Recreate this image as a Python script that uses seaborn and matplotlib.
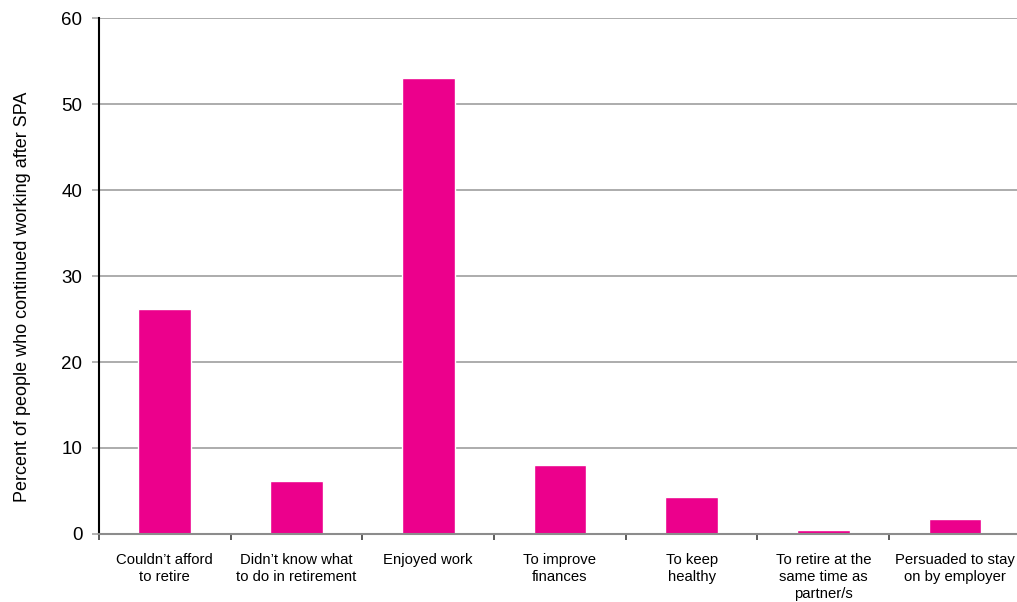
import matplotlib
matplotlib.use("Agg")
import matplotlib.pyplot as plt
import numpy as np
import pandas as pd
import seaborn as sns

categories = [
    "Couldn\u2019t afford\nto retire",
    "Didn\u2019t know what\nto do in retirement",
    "Enjoyed work",
    "To improve\nfinances",
    "To keep\nhealthy",
    "To retire at the\nsame time as\npartner/s",
    "Persuaded to stay\non by employer",
]
percent = [26.2, 6.2, 53.0, 8.0, 4.3, 0.5, 1.7]
y_ticks = [0, 10, 20, 30, 40, 50, 60]

df = pd.DataFrame({"reason": categories, "percent": percent})

sns.set_theme(style="white")
plt.rcParams["font.family"] = ["Liberation Sans", "DejaVu Sans"]
plt.rcParams["text.color"] = "#000000"
plt.rcParams["axes.labelcolor"] = "#000000"

fig = plt.figure(figsize=(10.17, 6.02), dpi=100)
ax = fig.add_axes([0.0973, 0.113, 0.9065, 0.857])

sns.barplot(data=df, x="reason", y="percent", color="#EC008C",
            saturation=1, width=0.4, ax=ax, zorder=3)

ax.set_ylim(0, 60)
ax.set_xlim(-0.5, len(categories) - 0.5)
ax.set_yticks(y_ticks)
ax.set_yticklabels([str(v) for v in y_ticks], fontsize=13.5)
ax.yaxis.grid(True, color="#A6A6A6", linewidth=1.3, zorder=0)
ax.xaxis.grid(False)

# category labels centred, boundary tick marks between categories
ax.set_xticks(range(len(categories)))
ax.set_xticklabels(categories, fontsize=10.7, linespacing=1.25, va="top")
ax.tick_params(axis="x", which="major", length=0, pad=14, labelcolor="#000000")
ax.set_xticks(np.arange(-0.5, len(categories), 1.0), minor=True)
ax.tick_params(axis="x", which="minor", length=4, width=1.2, color="#404040",
               direction="out", bottom=True)
ax.tick_params(axis="y", which="major", length=5, width=1.2, color="#A6A6A6",
               direction="out", left=True, pad=7, labelcolor="#000000")

ax.set_xlabel("")
ax.set_ylabel("Percent of people who continued working after SPA",
              fontsize=13, color="#000000")
ax.yaxis.set_label_coords(-0.0735, 0.459)

for side in ["top", "right"]:
    ax.spines[side].set_visible(False)
ax.spines["left"].set_color("#000000")
ax.spines["left"].set_linewidth(1.5)
ax.spines["left"].set_zorder(4)
ax.spines["bottom"].set_color("#8C8C8C")
ax.spines["bottom"].set_linewidth(1.5)
ax.spines["bottom"].set_zorder(4)

fig.savefig("out.png", dpi=100)
